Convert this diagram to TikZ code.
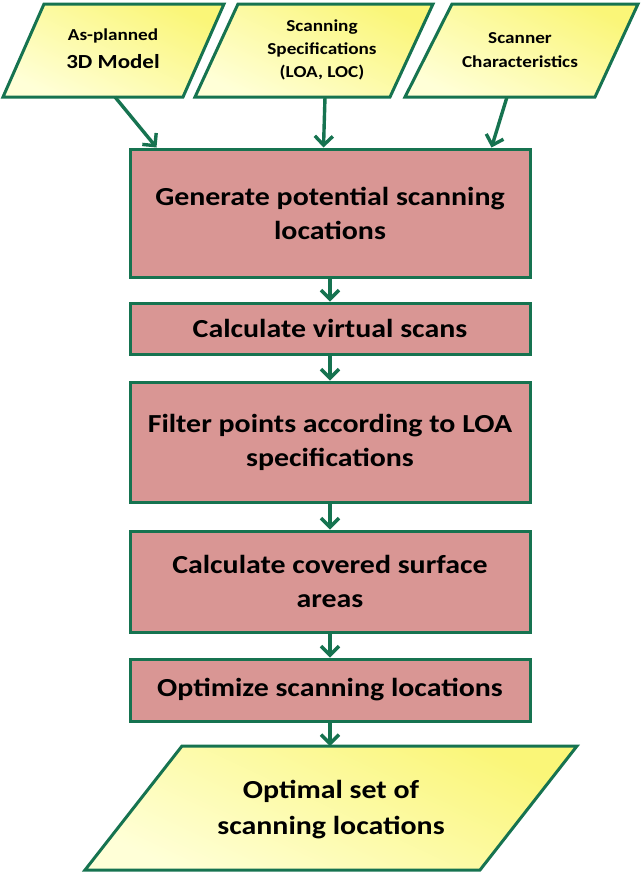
\documentclass[tikz,border=0pt]{standalone}
\usepackage{fontspec}
\newfontfamily\calfont{Carlito}[FakeStretch=1.15]
\usetikzlibrary{arrows.meta}
\definecolor{gr}{RGB}{22,115,80}
\definecolor{boxfill}{RGB}{217,150,148}
\definecolor{ytop}{RGB}{250,246,120}
\definecolor{ybot}{RGB}{255,255,215}
\begin{document}
\begin{tikzpicture}[x=1pt,y=-1pt,
  procbox/.style={draw=gr, line width=3pt, fill=boxfill, minimum width=400pt,
    inner sep=0pt, align=center, font=\calfont\bfseries\fontsize{26}{34}\selectfont},
  para/.style={draw=gr, line width=3pt, line join=miter, top color=ytop, bottom color=ybot, shading angle=-25},
  ptext/.style={align=center, inner sep=0pt},
  arr/.style={draw=gr, line width=3.4pt, -{Straight Barb[length=9pt,width=18pt]}}]
\useasboundingbox (0,0) rectangle (641,873);

% input parallelograms
\path[para] (44,4) -- (224,4) -- (183,97) -- (3,97) -- cycle;
\path[para] (238,4) -- (433,4) -- (390,97) -- (195,97) -- cycle;
\path[para] (452,4) -- (638,4) -- (595,97) -- (405,97) -- cycle;

\node[ptext, font=\calfont\bfseries\fontsize{16.7}{28}\selectfont] (in1) at (113,49) {As-planned\\\fontsize{20}{28}\selectfont 3D Model};
\node[ptext, font=\calfont\bfseries\fontsize{16.7}{23}\selectfont] (in2) at (322,50) {Scanning\\Specifications\\(LOA, LOC)};
\node[ptext, font=\calfont\bfseries\fontsize{16.7}{24}\selectfont] (in3) at (520,50) {Scanner\\Characteristics};

\coordinate (s1) at (115,97);
\coordinate (s2) at (325,97);
\coordinate (s3) at (507,97);

% process boxes
\node[procbox, minimum height=128pt] (b1) at (330,213) {Generate potential scanning\\locations};
\node[procbox, minimum height=51pt] (b2) at (330,328.5) {Calculate virtual scans};
\node[procbox, minimum height=120pt] (b3) at (330,442) {Filter points according to LOA\\specifications};
\node[procbox, minimum height=101pt] (b4) at (330,581.5) {Calculate covered surface\\areas};
\node[procbox, minimum height=62pt] (b5) at (330,690) {Optimize scanning locations};

% output parallelogram
\path[para] (182,746) -- (577,746) -- (480,870) -- (85,870) -- cycle;
\coordinate (o1) at (330,746);
\node[ptext, font=\calfont\bfseries\fontsize{26}{36}\selectfont] (out) at (331,810) {Optimal set of\\scanning locations};

% connectors
\draw[arr] (s1) -- ([xshift=28pt]b1.north west);
\draw[arr] (s2) -- ([xshift=195pt]b1.north west);
\draw[arr] (s3) -- ([xshift=363pt]b1.north west);
\draw[arr] (b1.south) -- (b2.north);
\draw[arr] (b2.south) -- (b3.north);
\draw[arr] (b3.south) -- (b4.north);
\draw[arr] (b4.south) -- (b5.north);
\draw[arr] (b5.south) -- (o1);
\end{tikzpicture}
\end{document}
